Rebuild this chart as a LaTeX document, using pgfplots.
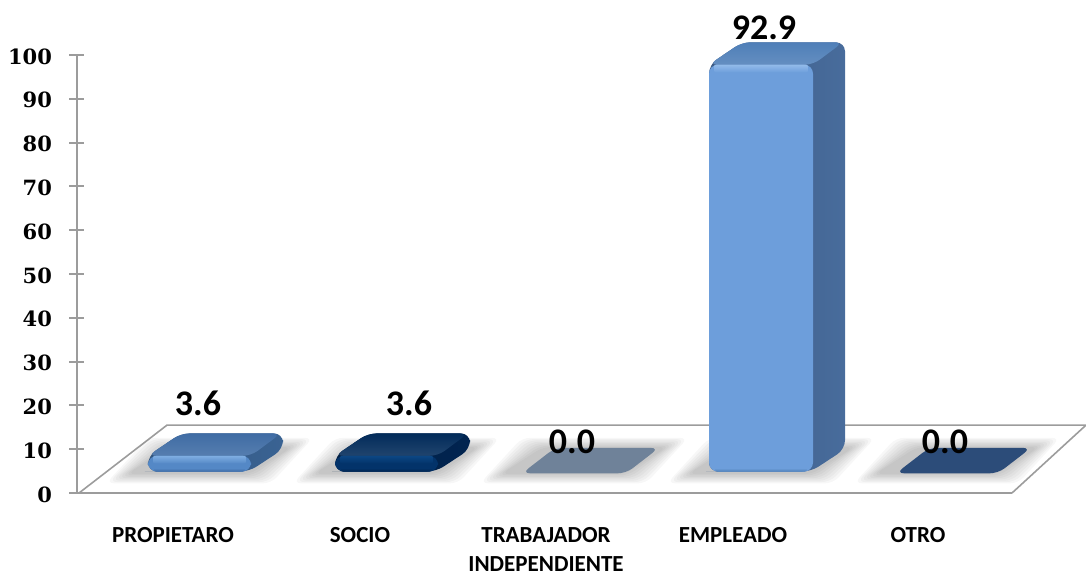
\documentclass[border=0pt]{standalone}
\usepackage{fontspec}
\setmainfont{Carlito}
\newfontfamily\tickfont{DejaVu Serif}
\usepackage{pgfplots}
\pgfplotsset{compat=1.18}

% floor shadow, one soft layer
\newcommand{\shadowlayer}[3]{%
  \addplot[draw=none,fill=black,fill opacity=0.032,rounded corners=8pt] coordinates {
    (#1-28-#3,3.6-#3*0.1) (#2+6+#3,3.6-#3*0.1) (#2+48+#3,11.2+#3*0.1) (#1+14-#3,11.2+#3*0.1)} --cycle;
}
\newcommand{\barshadow}[2]{%
  \shadowlayer{#1}{#2}{14}\shadowlayer{#1}{#2}{11}\shadowlayer{#1}{#2}{8}\shadowlayer{#1}{#2}{5}%
  \shadowlayer{#1}{#2}{2}\shadowlayer{#1}{#2}{-1}\shadowlayer{#1}{#2}{-4}\shadowlayer{#1}{#2}{-7}
}
% left, right, value, colour prefix (top, front, side, bevel, foot)
\newcommand{\boxbar}[4]{%
  \barshadow{#1}{#2}
  \addplot[draw=none,left color=#4side!85!black,right color=#4side,rounded corners=9pt] coordinates {
    (#1+6,4.9) (#2-2,4.9) (#2+32,10) (#2+32,4.9+#3+5.1) (#1+33,4.9+#3+5.1) (#1,4.9+#3) (#1,4.9)} --cycle;
  \addplot[draw=none,top color=#4top,bottom color=#4top!88!white,rounded corners=8pt] coordinates {
    (#1,4.9+#3) (#1+33,4.9+#3+5.1) (#2+30,4.9+#3+5.1) (#2,4.9+#3)} --cycle;
  \addplot[draw=none,fill=#4front,rounded corners=9pt] coordinates {
    (#1,4.9) (#1,4.9+#3) (#2,4.9+#3) (#2,4.9)} --cycle;
  \addplot[draw=none,top color=#4bevel,bottom color=#4front,rounded corners=2pt] coordinates {
    (#1+5,4.9+#3) (#1+5,4.9+#3-1.8) (#2-5,4.9+#3-1.8) (#2-5,4.9+#3)} --cycle;
  \addplot[draw=none,top color=#4front,bottom color=#4foot,rounded corners=2pt] coordinates {
    (#1+6,5.7) (#1+6,4.9) (#2-6,4.9) (#2-6,5.7)} --cycle;
}
\newcommand{\flatbar}[3]{%
  \barshadow{#1}{#2}
  \addplot[draw=none,fill=#3,rounded corners=8pt] coordinates {
    (#1,4.5) (#1+33,10.3) (#2+33,10.3) (#2,4.5)} --cycle;
}
\definecolor{axgray}{HTML}{9C9C9C}
\definecolor{proptop}{HTML}{3F6CA4}
\definecolor{propfront}{HTML}{5488C6}
\definecolor{propside}{HTML}{3A6393}
\definecolor{propbevel}{HTML}{7FAEE2}
\definecolor{propfoot}{HTML}{3F6CA4}
\definecolor{soctop}{HTML}{022B5A}
\definecolor{socfront}{HTML}{03336A}
\definecolor{socside}{HTML}{012450}
\definecolor{socbevel}{HTML}{0C4784}
\definecolor{socfoot}{HTML}{012450}
\definecolor{emptop}{HTML}{4F7FB8}
\definecolor{empfront}{HTML}{6D9EDB}
\definecolor{empside}{HTML}{486C9C}
\definecolor{empbevel}{HTML}{93BBEA}
\definecolor{empfoot}{HTML}{4F7FB8}
\definecolor{trabflat}{HTML}{6F8299}
\definecolor{otroflat}{HTML}{2C4C79}

\begin{document}
\begin{tikzpicture}
\begin{axis}[
  scale only axis,width=935pt,height=438pt,
  xmin=77,xmax=1012,ymin=0,ymax=100,
  clip=false,
  axis lines=left,
  axis line style={-,axgray,line width=2.2pt},
  xtick={173,360,546,733,918},
  xticklabels={PROPIETARO,SOCIO,TRABAJADOR\\INDEPENDIENTE,EMPLEADO,OTRO},
  x tick label style={align=center,inner sep=0pt,yshift=-26.5pt,font=\fontsize{23}{29}\selectfont\bfseries},
  x tick style={draw=none},
  ytick={0,10,...,100},
  y tick style={axgray,line width=2pt},
  major tick length=15pt,
  tick align=center,
  y tick label style={xshift=-14pt,yshift=-1.5pt,font=\fontsize{21}{26}\selectfont\tickfont\bfseries},
  /pgf/number format/assume math mode=true,
]
% floor
\addplot[axgray,line width=1.6pt] coordinates {(79,0) (167,15.5) (1086,15.5) (1012,0)};

\boxbar{148}{251}{3.6}{prop}
\boxbar{335}{438}{3.6}{soc}
\flatbar{522}{626}{trabflat}
\boxbar{709}{813}{92.9}{emp}
\flatbar{896}{998}{otroflat}

% value labels
\addplot[draw=none,point meta=explicit symbolic,
  nodes near coords,
  nodes near coords align={center},
  every node near coord/.style={font=\fontsize{36}{38}\selectfont\bfseries,text=black}]
  coordinates {(198,20.5)[3.6] (409,20.5)[3.6] (572,11.8)[0.0] (764,106.3)[92.9] (945,11.8)[0.0]};
\end{axis}
\pgfresetboundingbox
\path[use as bounding box] (-77pt,-81pt) rectangle (1009pt,493pt);
\end{tikzpicture}
\end{document}
